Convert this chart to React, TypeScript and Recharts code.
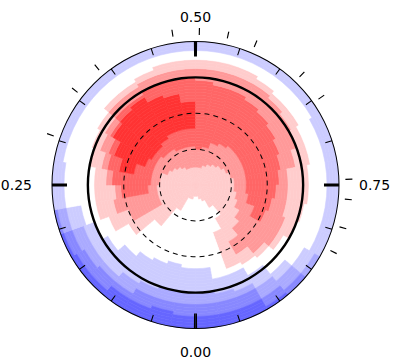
import React from 'react';
import { PieChart, Pie, Cell } from 'recharts';

// Surface map in polar projection: pole at the centre, edge of the disc at latitude -30.
// 36 phase bins of 10 deg, starting at phase 0.00 (bottom) and going clockwise.
// Each entry lists "level@lat" from the pole outwards: the level holds down to that latitude.
// Levels: 0..3 = blue (dark -> light), 4 = white, 5..8 = red (light -> dark)
const SECTORS = [
  '5@79 4@21 3@1 2@-9 1@-19 0@-30',
  '5@78 4@22 3@0 2@-9 1@-18 0@-30',
  '5@77 4@21 3@-2 2@-10 1@-19 0@-30',
  '5@65 4@17 3@-6 2@-14 1@-21 0@-30',
  '5@44 4@13 3@-9 2@-16 1@-25 0@-30',
  '5@25 4@4 3@-10 2@-17 1@-26 0@-30',
  '5@57 6@30 5@13 4@0 3@-11 2@-19 1@-28 0@-30',
  '5@58 6@19 5@6 4@-7 3@-19 2@-27 1@-30',
  '5@58 6@50 7@28 6@23 5@6 4@-21 3@-30',
  '5@59 6@52 7@21 6@16 5@4 4@-21 3@-30',
  '5@61 6@52 7@38 8@26 7@15 6@9 5@1 4@-22 3@-30',
  '5@64 6@52 7@44 8@18 7@12 6@6 5@-2 4@-22 3@-30',
  '5@67 6@52 7@47 8@11 7@8 6@3 5@-5 4@-22 3@-30',
  '5@70 6@55 7@47 8@8 7@3 6@-4 5@-10 4@-22 3@-30',
  '5@72 6@56 7@45 8@6 7@3 6@-5 5@-11 4@-22 3@-30',
  '5@74 6@57 7@43 8@9 7@1 6@-7 5@-13 4@-22 3@-30',
  '5@75 6@57 7@42 8@13 7@1 6@-7 5@-14 4@-22 3@-30',
  '5@75 6@58 7@42 8@20 7@1 6@-8 5@-15 4@-23 3@-30',
  '5@75 6@59 7@2 6@-8 5@-15 4@-23 3@-30',
  '5@74 6@57 7@4 6@-8 5@-15 4@-23 3@-30',
  '5@72 6@52 7@6 6@-8 5@-14 4@-22 3@-30',
  '5@71 6@50 7@8 6@-7 5@-12 4@-22 3@-30',
  '5@68 6@48 7@10 6@-5 5@-10 4@-22 3@-30',
  '5@65 6@48 7@12 6@-3 5@-9 4@-22 3@-30',
  '5@62 6@48 7@15 6@1 5@-8 4@-21 3@-30',
  '5@60 6@47 7@18 6@6 5@-7 4@-21 3@-30',
  '5@58 6@48 7@21 6@12 5@-6 4@-21 3@-30',
  '5@58 6@48 7@23 6@13 5@-4 4@-21 3@-30',
  '5@55 6@44 7@25 6@13 5@-2 4@-20 3@-30',
  '5@52 6@38 7@28 6@11 5@1 4@-19 3@-30',
  '5@48 6@11 5@4 4@-15 3@-25 2@-30',
  '5@42 6@16 5@9 4@-7 3@-15 2@-24 1@-30',
  '5@67 4@57 5@36 6@23 5@13 4@2 3@-10 2@-19 1@-27 0@-30',
  '5@76 4@47 5@15 4@9 3@-4 2@-10 1@-19 0@-30',
  '5@77 4@11 3@-2 2@-10 1@-19 0@-30',
  '5@79 4@20 3@0 2@-9 1@-19 0@-30',
];

const LEVEL_COLORS = [
  '#6666ff', '#8888ff', '#aaaaff', '#ccccff',
  '#ffffff',
  '#ffcccc', '#ff9999', '#ff6666', '#ff3333',
];

const PHASE_LABELS = ['0.00', '0.25', '0.50', '0.75'];
const QUARTER_TICKS = [0, 0.25, 0.5, 0.75];
const MINOR_TICKS = [0.05, 0.1, 0.15, 0.2, 0.3, 0.35, 0.4, 0.45, 0.55, 0.6, 0.65, 0.7, 0.8, 0.85, 0.9, 0.95];
// phases of the observations, marked outside the disc
const OBS_PHASES = [0.303, 0.356, 0.389, 0.476, 0.504, 0.534, 0.564, 0.622, 0.653, 0.744, 0.765, 0.795, 0.822];
const DASHED_LATS = [60, 30];
const SOLID_LAT = 0;
const MIN_LAT = -30;

const CX = 195.5;
const CY = 185;
const R_EDGE = 143.5;
const LAT_STEP = 2.5; // ring thickness used to draw the map
const latToR = (lat: number) => ((90 - lat) / (90 - MIN_LAT)) * R_EDGE;

const parsed = SECTORS.map((s) =>
  s.split(' ').map((t) => {
    const [lvl, lat] = t.split('@');
    return { level: Number(lvl), lat: Number(lat) };
  })
);
const levelAt = (bin: number, lat: number) => {
  const seg = parsed[bin].find((p) => lat >= p.lat);
  return seg ? seg.level : parsed[bin][parsed[bin].length - 1].level;
};

// turn a list of tick phases into alternating gap / tick slices
function tickSlices(phases: number[], half: number) {
  const spans: [number, number][] = [];
  phases.forEach((p) => {
    const s = p - half;
    const e = p + half;
    if (s < 0) {
      spans.push([0, e]);
      spans.push([1 + s, 1]);
    } else spans.push([s, e]);
  });
  spans.sort((a, b) => a[0] - b[0]);
  const out: { value: number; on: boolean }[] = [];
  let cur = 0;
  spans.forEach(([s, e]) => {
    if (s > cur) out.push({ value: s - cur, on: false });
    out.push({ value: e - s, on: true });
    cur = e;
  });
  if (cur < 1) out.push({ value: 1 - cur, on: false });
  return out;
}

function dashSlices(count: number) {
  const out: { value: number; on: boolean }[] = [];
  for (let i = 0; i < count; i++) {
    out.push({ value: 0.55, on: true });
    out.push({ value: 0.45, on: false });
  }
  return out;
}

const renderPhaseLabel = ({ cx, cy, midAngle, payload }: any) => {
  const RADIAN = Math.PI / 180;
  const cos = Math.cos(-midAngle * RADIAN);
  const sin = Math.sin(-midAngle * RADIAN);
  const r = 163.5;
  const x = cx + r * cos;
  const y = cy + r * sin;
  const anchor = cos > 0.5 ? 'start' : cos < -0.5 ? 'end' : 'middle';
  const dy = sin < -0.5 ? 0 : sin > 0.5 ? 8 : 5;
  return (
    <text x={x} y={y + dy} textAnchor={anchor} fill="#000" fontSize={14} fontFamily="DejaVu Sans">
      {payload.name}
    </text>
  );
};

const ring = (key: string, data: { value: number; on: boolean }[], inner: number, outer: number, start = 270) => (
  <Pie
    key={key}
    data={data}
    dataKey="value"
    cx={CX}
    cy={CY}
    innerRadius={inner}
    outerRadius={outer}
    startAngle={start}
    endAngle={start - 360}
    stroke="none"
    isAnimationActive={false}
  >
    {data.map((d, i) => (
      <Cell key={i} fill={d.on ? '#000' : 'none'} stroke="none" />
    ))}
  </Pie>
);

export default function App() {
  const nRings = Math.round((90 - MIN_LAT) / LAT_STEP);
  const labelData = PHASE_LABELS.map((name) => ({ name, value: 1 }));
  return (
    <div style={{ position: 'absolute', left: 0, top: 0, background: '#fff' }}>
      <PieChart width={418} height={359} margin={{ top: 0, right: 0, bottom: 0, left: 0 }}>
        {Array.from({ length: nRings }, (_, k) => {
          const latTop = 90 - k * LAT_STEP;
          const latMid = latTop - LAT_STEP / 2;
          const data = parsed.map((_, i) => ({ name: `bin${i}`, value: 1, level: levelAt(i, latMid) }));
          return (
            <Pie
              key={`ring-${k}`}
              data={data}
              dataKey="value"
              cx={CX}
              cy={CY}
              innerRadius={latToR(latTop)}
              outerRadius={latToR(latTop - LAT_STEP)}
              startAngle={270}
              endAngle={-90}
              stroke="none"
              isAnimationActive={false}
            >
              {data.map((d, i) => (
                <Cell key={i} fill={LEVEL_COLORS[d.level]} stroke={LEVEL_COLORS[d.level]} strokeWidth={0.6} />
              ))}
            </Pie>
          );
        })}

        {DASHED_LATS.map((lat) =>
          ring(`dash-${lat}`, dashSlices(Math.round((2 * Math.PI * latToR(lat)) / 9)), latToR(lat) - 0.5, latToR(lat) + 0.5)
        )}
        {ring('solid', [{ value: 1, on: true }], latToR(SOLID_LAT) - 1.2, latToR(SOLID_LAT) + 1.2)}
        {ring('edge', [{ value: 1, on: true }], R_EDGE - 0.5, R_EDGE + 0.5)}
        {ring('minor', tickSlices(MINOR_TICKS, 0.0006), R_EDGE - 7, R_EDGE)}
        {ring('major', tickSlices(QUARTER_TICKS, 0.0018), R_EDGE - 15, R_EDGE)}
        {ring('obs', tickSlices(OBS_PHASES, 0.0006), 150, 157)}

        <Pie
          data={labelData}
          dataKey="value"
          nameKey="name"
          cx={CX}
          cy={CY}
          innerRadius={150}
          outerRadius={151}
          startAngle={315}
          endAngle={-45}
          fill="none"
          stroke="none"
          label={renderPhaseLabel}
          labelLine={false}
          isAnimationActive={false}
        />
      </PieChart>
    </div>
  );
}
